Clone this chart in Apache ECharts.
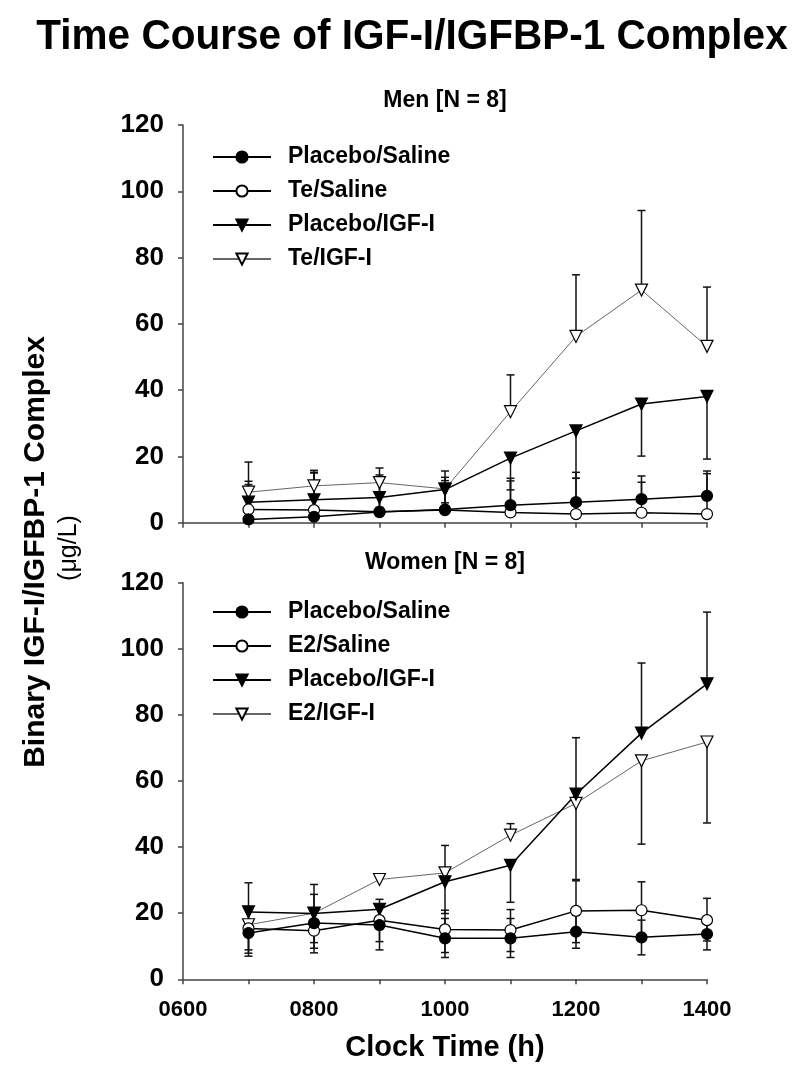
<!DOCTYPE html>
<html><head><meta charset="utf-8">
<script src="https://cdn.jsdelivr.net/npm/echarts@6/dist/echarts.min.js"></script>
<style>html,body{margin:0;padding:0;background:#fff}#c{width:800px;height:1073px}</style>
</head><body><div id="c"></div>
<script>
// ---- data ----
const hours = [700, 800, 900, 1000, 1100, 1200, 1300, 1400];
const xTickLabels = {600: '0600', 800: '0800', 1000: '1000', 1200: '1200', 1400: '1400'};
const yTicks = [0, 20, 40, 60, 80, 100, 120];

// Men [N = 8]
const menPlaceboSaline      = [1.0, 1.8, 3.2, 4.0, 5.3, 6.2, 7.1, 8.1];
const menPlaceboSalineUp    = [11.5, 13.4, 11.2, 9.7, 8.1, 9.0, 7.0, 7.5];
const menPlaceboSalineDown  = [0, 0, 0, 0, 0, 0, 0, 0];
const menTeSaline           = [4.0, 3.8, 3.3, 3.8, 3.1, 2.6, 3.0, 2.6];
const menTeSalineUp         = [7.5, 11.2, 10.4, 8.9, 9.5, 10.8, 9.2, 12.2];
const menTeSalineDown       = [0, 0, 0, 0, 0, 0, 0, 0];
const menPlaceboIGF         = [6.2, 6.9, 7.6, 10.0, 19.5, 27.7, 35.8, 38.1];
const menPlaceboIGFUp       = [0, 0, 0, 0, 0, 0, 0, 0];
const menPlaceboIGFDown     = [2.0, 2.5, 3.0, 4.0, 9.6, 14.3, 15.7, 18.9];
const menTeIGF              = [9.2, 11.1, 12.1, 10.2, 33.5, 56.2, 70.2, 53.2];
const menTeIGFUp            = [9.1, 4.7, 4.4, 5.4, 11.1, 18.6, 24.0, 17.9];
const menTeIGFDown          = [0, 0, 0, 0, 0, 0, 0, 0];

// Women [N = 8]
const womPlaceboSaline      = [14.0, 17.0, 16.4, 12.4, 12.4, 14.4, 12.7, 13.7];
const womPlaceboSalineUp    = [7.2, 8.7, 6.3, 6.0, 6.0, 5.0, 5.2, 4.8];
const womPlaceboSalineDown  = [7.0, 9.0, 5.0, 5.8, 5.8, 5.0, 5.3, 4.8];
const womE2Saline           = [15.4, 14.7, 17.9, 15.1, 14.9, 20.7, 20.9, 17.9];
const womE2SalineUp         = [6.6, 6.0, 6.3, 5.8, 6.2, 9.1, 8.6, 6.6];
const womE2SalineDown       = [6.5, 5.3, 9.0, 7.0, 6.5, 9.6, 8.4, 6.3];
const womPlaceboIGF         = [20.4, 19.9, 21.2, 29.5, 34.5, 56.0, 74.5, 89.4];
const womPlaceboIGFUp       = [8.8, 8.8, 0, 11.0, 0, 17.1, 21.2, 21.7];
const womPlaceboIGFDown     = [0, 0, 0, 0, 11.2, 0, 0, 0];
const womE2IGF              = [16.5, 20.0, 30.2, 32.2, 43.6, 53.2, 66.1, 71.8];
const womE2IGFUp            = [0, 0, 0, 0, 3.5, 0, 0, 0];
const womE2IGFDown          = [8.6, 8.9, 0, 12.3, 0, 23.0, 25.2, 24.5];

// ---- chart ----
const FONT = '"Liberation Sans", Arial, Helvetica, sans-serif';
const pts = v => hours.map((h, i) => [h, v[i]]);
function errData(v, up, down) {
  const out = [];
  hours.forEach((h, i) => {
    if (up[i] > 0) out.push([h, v[i], v[i] + up[i]]);
    if (down[i] > 0) out.push([h, v[i], v[i] - down[i]]);
  });
  return out;
}
const STY = {
  fc: {symbol: 'circle', size: 11, fill: '#000', line: '#000', lw: 1.5},
  oc: {symbol: 'circle', size: 11, fill: '#fff', line: '#000', lw: 1.5},
  ft: {symbol: 'triangle', size: 12, fill: '#000', line: '#000', lw: 1.5},
  ot: {symbol: 'triangle', size: 12, fill: '#fff', line: '#666', lw: 1}
};
function lineSeries(name, v, st, gi) {
  const s = STY[st];
  return {
    type: 'line', name, xAxisIndex: gi, yAxisIndex: gi, data: pts(v),
    symbol: s.symbol, symbolSize: s.size, symbolRotate: s.symbol === 'triangle' ? 180 : 0,
    showAllSymbol: true, z: 3,
    lineStyle: {color: s.line, width: s.lw},
    itemStyle: {color: s.fill, borderColor: '#000', borderWidth: 1.2},
    emphasis: {disabled: true}, animation: false
  };
}
function errSeries(v, up, down, gi) {
  return {
    type: 'custom', name: 'err', xAxisIndex: gi, yAxisIndex: gi, z: 2,
    data: errData(v, up, down), encode: {x: 0, y: [1, 2]}, animation: false, silent: true,
    renderItem: (params, api) => {
      const p0 = api.coord([api.value(0), api.value(1)]);
      const p1 = api.coord([api.value(0), api.value(2)]);
      const hw = 4;
      return {type: 'group', children: [
        {type: 'line', shape: {x1: p0[0], y1: p0[1], x2: p1[0], y2: p1[1]}, style: {stroke: '#111', lineWidth: 1.5}},
        {type: 'line', shape: {x1: p1[0] - hw, y1: p1[1], x2: p1[0] + hw, y2: p1[1]}, style: {stroke: '#111', lineWidth: 1.5}}
      ]};
    }
  };
}
const axisLine = {show: true, lineStyle: {color: '#444', width: 1.5}};
function xAxis(gi, showLabel) {
  return {
    type: 'value', gridIndex: gi, min: 600, max: 1400, interval: 100,
    axisLine: axisLine, axisTick: {show: true, inside: false, length: 5, lineStyle: {color: '#444', width: 1.5}},
    splitLine: {show: false},
    axisLabel: {show: showLabel, margin: 20, fontFamily: FONT, fontSize: 22, fontWeight: 'bold', color: '#000',
      formatter: v => xTickLabels[v] || ''},
    name: showLabel ? 'Clock Time (h)' : '', nameLocation: 'middle', nameGap: 54,
    nameTextStyle: {fontFamily: FONT, fontSize: 29, fontWeight: 'bold', color: '#000'}
  };
}
function yAxis(gi) {
  return {
    type: 'value', gridIndex: gi, min: yTicks[0], max: yTicks[yTicks.length - 1], interval: 20,
    axisLine: axisLine, axisTick: {show: true, inside: false, length: 5, lineStyle: {color: '#444', width: 1.5}},
    splitLine: {show: false},
    axisLabel: {margin: 19, fontFamily: FONT, fontSize: 26, fontWeight: 'bold', color: '#000'}
  };
}
function legend(top, names) {
  return {
    left: 212, top, padding: 0, orient: 'vertical', itemWidth: 58, itemHeight: 14, itemGap: 10,
    data: names, selectedMode: false,
    textStyle: {fontFamily: FONT, fontSize: 23, fontWeight: 'bold', color: '#000', lineHeight: 24, padding: [0, 0, 0, 12]}
  };
}
const chart = echarts.init(document.getElementById('c'), null, {renderer: 'canvas'});
chart.setOption({
  backgroundColor: '#fff',
  animation: false,
  grid: [
    {left: 183, right: 93, top: 125, bottom: 1073 - 522.7},
    {left: 183, right: 93, top: 582.7, bottom: 1073 - 979.3}
  ],
  xAxis: [xAxis(0, false), xAxis(1, true)],
  yAxis: [yAxis(0), yAxis(1)],
  legend: [
    legend(145, ['Placebo/Saline', 'Te/Saline', 'Placebo/IGF-I', 'Te/IGF-I']),
    legend(600, ['Placebo/Saline', 'E2/Saline', 'Placebo/IGF-I', 'E2/IGF-I'])
  ],
  graphic: [
    {type: 'text', x: 412, y: 37, scaleX: 0.965, style: {text: 'Time Course of IGF-I/IGFBP-1 Complex', font: 'bold 42px ' + FONT, fill: '#000', textAlign: 'center', textVerticalAlign: 'middle'}},
    {type: 'text', x: 445, y: 101, style: {text: 'Men [N = 8]', font: 'bold 23px ' + FONT, fill: '#000', textAlign: 'center', textVerticalAlign: 'middle'}},
    {type: 'text', x: 445, y: 563, style: {text: 'Women [N = 8]', font: 'bold 23px ' + FONT, fill: '#000', textAlign: 'center', textVerticalAlign: 'middle'}},
    {type: 'text', x: 36, y: 552, rotation: Math.PI / 2, style: {text: 'Binary IGF-I/IGFBP-1 Complex', font: 'bold 30px ' + FONT, fill: '#000', textAlign: 'center', textVerticalAlign: 'middle'}},
    {type: 'text', x: 69, y: 548, rotation: Math.PI / 2, style: {text: '(\u03BCg/L)', font: '25px ' + FONT, fill: '#000', textAlign: 'center', textVerticalAlign: 'middle'}}
  ],
  series: [
    errSeries(menPlaceboSaline, menPlaceboSalineUp, menPlaceboSalineDown, 0),
    errSeries(menTeSaline, menTeSalineUp, menTeSalineDown, 0),
    errSeries(menPlaceboIGF, menPlaceboIGFUp, menPlaceboIGFDown, 0),
    errSeries(menTeIGF, menTeIGFUp, menTeIGFDown, 0),
    lineSeries('Te/IGF-I', menTeIGF, 'ot', 0),
    lineSeries('Placebo/IGF-I', menPlaceboIGF, 'ft', 0),
    lineSeries('Te/Saline', menTeSaline, 'oc', 0),
    lineSeries('Placebo/Saline', menPlaceboSaline, 'fc', 0),
    errSeries(womPlaceboSaline, womPlaceboSalineUp, womPlaceboSalineDown, 1),
    errSeries(womE2Saline, womE2SalineUp, womE2SalineDown, 1),
    errSeries(womPlaceboIGF, womPlaceboIGFUp, womPlaceboIGFDown, 1),
    errSeries(womE2IGF, womE2IGFUp, womE2IGFDown, 1),
    lineSeries('E2/IGF-I', womE2IGF, 'ot', 1),
    lineSeries('Placebo/IGF-I', womPlaceboIGF, 'ft', 1),
    lineSeries('E2/Saline', womE2Saline, 'oc', 1),
    lineSeries('Placebo/Saline', womPlaceboSaline, 'fc', 1)
  ]
});
</script>
</body></html>
